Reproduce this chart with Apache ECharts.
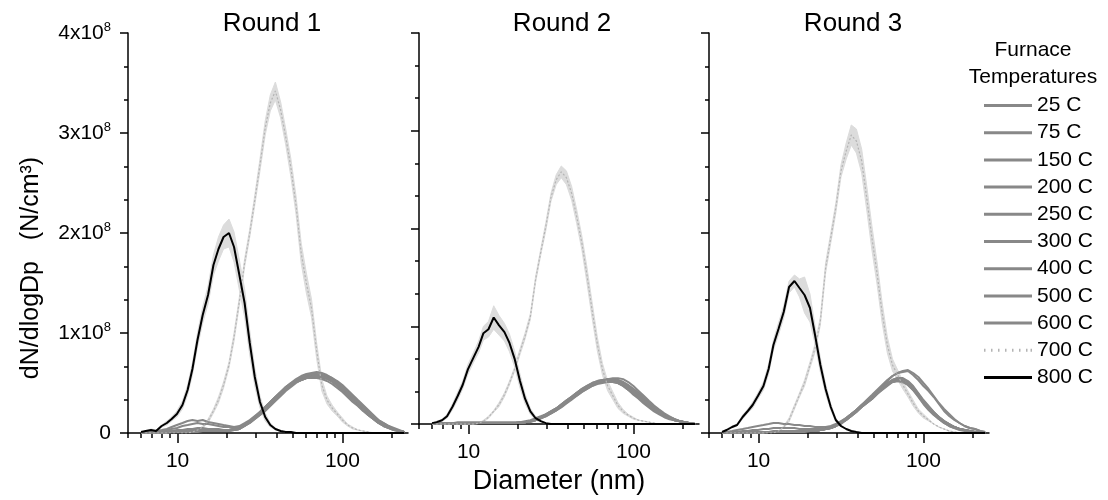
<!DOCTYPE html>
<html><head><meta charset="utf-8">
<script src="https://cdn.jsdelivr.net/npm/echarts@6/dist/echarts.min.js"></script>
<style>html,body{margin:0;padding:0;background:#fff}#c{width:1108px;height:500px}</style>
</head><body><div id="c"></div>
<script>
// ---------- DATA ----------
const diameters = [6.0,6.4,6.9,7.4,8.0,8.6,9.2,9.9,10.7,11.5, 12.3,13.2,14.2,15.3,16.5,17.7,19.0,20.5,22.0,23.7,
  25.5,27.4,29.4,31.6,34.0,36.5,39.2,42.2,45.3,48.7, 52.3,56.2,60.4,64.9,69.8,75.0,80.6,86.6,93.1,100.0,
  107.5,115.5,124.1,133.4,143.3,154.0,165.5,177.8,191.1,205.4,220.7,237.1];
const temps = ['25 C','75 C','150 C','200 C','250 C','300 C','400 C','500 C','600 C','700 C','800 C'];
const roundTitles = ['Round 1','Round 2','Round 3'];
const xMajorTicks = [10, 100];
const xMinorTicks = [5,6,7,8,9,20,30,40,50,60,70,80,90,200];

// Round 1 (values in 10^6 N/cm3)
const r1_25C  = [0,1,1,2,3,4,6,8,10,12, 13,12,13,11,10,9,8,7,6,7, 10,13,17,21,26,31,36,41,46,50, 53,55,57,58,58,57,55,52,48,43, 38,33,28,23,18,14,10,7,5,3,2,1];
const r1_75C  = [0,0,1,1,2,3,4,5,7,8, 9,10,9,9,8,7,6,6,5,6, 9,12,16,21,26,31,36,41,45,49, 52,55,57,58,59,58,56,53,49,44, 39,34,29,24,19,15,11,8,6,4,2,1];
const r1_150C = [0,0,0,1,1,2,2,3,3,4, 4,5,5,4,4,4,3,3,4,5, 8,11,15,19,24,29,34,39,44,48, 51,53,55,56,56,55,54,51,47,42, 37,32,28,23,18,14,10,7,5,3,2,1];
const r1_200C = [0,0,0,0,1,1,1,2,2,2, 3,3,3,3,3,3,3,3,4,5, 8,12,16,21,26,31,36,41,46,50, 54,57,59,60,61,60,58,55,51,46, 41,36,31,26,21,16,12,9,6,4,2,1];
const r1_250C = [0,0,0,1,1,1,1,2,2,2, 2,2,2,2,2,2,2,3,3,4, 7,10,14,18,23,28,33,38,43,47, 51,53,55,56,57,57,56,54,51,47, 42,37,32,27,22,17,13,10,7,5,3,1];
const r1_300C = [0,0,0,0,1,1,1,1,2,2, 2,2,2,2,2,2,2,3,4,5, 8,11,15,19,24,29,34,39,44,48, 51,54,56,58,58,58,57,55,52,48, 43,38,33,28,23,18,13,10,7,4,2,1];
const r1_400C = [0,0,0,0,0,1,1,1,1,2, 2,2,2,2,2,2,2,2,3,4, 7,11,15,20,25,30,35,40,44,48, 51,53,55,55,55,54,52,49,45,41, 36,31,27,22,18,14,10,7,5,3,2,1];
const r1_500C = [0,0,0,0,1,1,1,1,1,2, 2,2,2,2,2,2,3,3,3,4, 8,11,15,20,25,30,35,40,45,49, 53,56,58,59,59,58,56,53,50,45, 40,35,30,25,20,16,12,9,6,4,2,1];
const r1_600C = [0,0,0,0,0,0,1,1,1,1, 1,1,2,2,2,2,2,2,3,4, 7,10,14,18,22,27,32,37,42,46, 50,53,55,56,57,56,55,53,50,46, 41,36,31,26,21,16,12,9,6,4,2,1];
const r1_700C = [0,0,0,0,0,0,0,0,0,0, 1,3,6,12,22,33,48,68,96,132, 170,200,233,268,305,330,342,323,296,265, 228,180,150,125,82,48,33,25,19,13, 8,5,3,2,1,0,0,0,0,0,0,0];
const r1_700C_sd = [0,0,0,0,0,0,0,0,0,0, 0,0,1,2,2,3,3,3,4,4, 4,4,5,6,7,8,9,8,8,9, 9,10,10,9,8,6,4,3,2,2, 1,1,0,0,0,0,0,0,0,0,0,0];
const r1_800C = [1,2,3,2,7,10,14,19,28,43, 64,93,118,138,168,184,196,200,186,158, 130,90,56,31,16,8,4,2,1,1, 0,0,0,0,0,0,0,0,0,0, 0,0,0,0,0,0,0,0,0,0,0,0];
const r1_800C_sd = [0,0,1,1,1,2,2,3,4,5, 6,7,8,9,10,12,12,14,15,15, 14,12,9,6,4,2,1,0,0,0, 0,0,0,0,0,0,0,0,0,0, 0,0,0,0,0,0,0,0,0,0,0,0];

// Round 2
const r2_25C  = [0,1,1,1,1,2,2,2,2,2, 2,2,2,2,2,2,2,2,3,4, 6,8,10,13,16,20,24,28,32,36, 39,42,44,45,46,46,45,42,38,33, 28,23,19,15,11,8,6,4,3,2,1,0];
const r2_75C  = [0,0,1,1,1,1,1,1,1,1, 1,1,1,1,1,1,1,2,2,3, 5,7,9,12,15,18,22,26,30,34, 37,40,42,43,44,43,42,39,35,31, 27,22,18,14,11,8,6,4,3,2,1,0];
const r2_150C = [0,0,0,1,1,1,1,1,1,1, 1,1,1,1,1,1,1,1,2,3, 4,6,8,11,14,18,22,26,30,34, 37,40,42,44,45,45,45,43,40,36, 32,27,22,18,14,10,7,5,3,2,1,0];
const r2_200C = [0,0,0,0,1,1,1,1,1,1, 1,1,1,1,1,1,1,2,2,3, 5,7,10,13,16,20,24,28,32,36, 39,42,44,45,45,44,42,39,35,30, 26,21,17,13,10,7,5,4,3,2,1,0];
const r2_250C = [0,0,0,0,0,1,1,1,1,1, 1,1,1,1,1,1,1,1,2,2, 4,6,8,11,14,17,21,25,29,33, 36,39,42,44,46,47,47,46,43,39, 34,29,24,19,15,11,8,5,3,2,1,0];
const r2_300C = [0,0,0,0,0,0,1,1,1,1, 1,1,1,1,1,1,1,2,2,3, 5,7,9,12,15,19,23,27,31,35, 38,41,43,45,46,46,45,43,39,35, 30,25,20,16,12,9,6,4,3,2,1,0];
const r2_400C = [0,0,0,0,0,0,0,1,1,1, 1,1,1,1,1,1,1,1,2,3, 4,6,9,11,14,18,22,26,29,33, 36,39,41,42,43,43,42,40,37,33, 29,24,20,16,12,9,6,4,3,2,1,0];
const r2_500C = [0,0,0,0,0,0,0,0,1,1, 1,1,1,1,1,1,1,2,2,3, 5,7,10,13,16,20,24,28,32,35, 38,40,42,43,44,44,44,42,39,35, 31,26,21,17,13,9,7,5,3,2,1,0];
const r2_600C = [0,0,0,0,0,0,0,0,0,1, 1,1,1,1,1,1,1,1,2,3, 4,6,9,12,15,19,23,27,31,34, 37,40,42,44,45,45,44,41,37,33, 28,23,19,15,11,8,6,4,3,2,1,0];
const r2_700C = [0,0,0,0,0,0,0,0,0,1, 3,7,13,20,30,42,56,74,90,110, 148,176,202,232,250,258,252,236,212,185, 152,116,82,56,39,29,19,13,9,6, 4,3,2,1,0,0,0,0,0,0,0,0];
const r2_700C_sd = [0,0,0,0,0,0,0,0,0,0, 1,1,1,2,2,2,2,3,3,3, 3,3,4,4,5,6,7,7,7,7, 8,8,7,6,5,4,3,2,1,1, 0,0,0,0,0,0,0,0,0,0,0,0];
const r2_800C = [1,2,4,8,18,29,40,56,68,79, 93,97,109,101,94,83,67,44,26,13, 6,3,1,0,0,0,0,0,0,0, 0,0,0,0,0,0,0,0,0,0, 0,0,0,0,0,0,0,0,0,0,0,0];
const r2_800C_sd = [0,1,1,2,3,4,4,5,5,6, 7,8,12,10,9,9,8,7,5,3, 2,1,0,0,0,0,0,0,0,0, 0,0,0,0,0,0,0,0,0,0, 0,0,0,0,0,0,0,0,0,0,0,0];

// Round 3
const r3_25C  = [0,1,2,3,4,5,6,7,8,9, 10,10,9,9,8,8,7,7,6,6, 6,7,9,12,15,19,23,27,31,35, 40,44,48,51,53,52,49,44,38,31, 25,19,15,11,8,6,4,3,2,1,1,0];
const r3_75C  = [0,0,1,1,2,2,3,3,4,4, 5,5,5,5,5,4,4,4,4,4, 5,6,8,11,15,19,23,28,32,36, 41,46,50,53,55,54,51,46,39,32, 26,20,16,12,9,6,4,3,2,1,1,0];
const r3_150C = [0,0,0,1,1,1,1,1,1,1, 2,2,2,2,2,2,2,2,2,3, 4,5,7,10,13,17,21,26,30,34, 39,44,48,52,53,52,49,44,37,30, 24,19,14,11,8,6,4,3,2,1,1,0];
const r3_200C = [0,0,0,0,1,1,1,1,1,1, 1,1,2,2,2,2,2,2,2,3, 4,6,8,11,15,19,23,28,32,36, 41,46,50,53,54,54,51,46,39,32, 26,21,16,12,9,6,4,3,2,1,1,0];
const r3_250C = [0,0,0,0,0,1,1,1,1,1, 1,1,1,2,2,2,2,2,2,3, 4,5,7,10,13,17,22,26,30,34, 39,44,48,51,52,51,48,43,37,30, 24,19,14,10,7,5,4,3,2,1,0,0];
const r3_300C = [0,0,0,0,0,0,1,1,1,1, 1,1,1,1,2,2,2,2,2,3, 4,5,7,10,14,18,22,27,31,35, 40,45,49,53,55,55,52,47,40,33, 27,21,16,12,9,6,4,3,2,1,1,0];
const r3_400C = [0,0,0,0,0,0,0,1,1,1, 1,1,1,1,1,2,2,2,2,3, 4,5,7,9,13,17,21,26,30,34, 39,43,47,51,52,51,48,43,36,29, 23,18,14,10,7,5,3,2,2,1,0,0];
const r3_500C = [0,0,0,0,0,0,0,0,1,1, 1,1,1,1,1,1,2,2,2,3, 4,5,7,10,14,18,22,27,32,37, 42,46,52,57,60,61,62,58,53,47, 42,36,29,22,17,13,10,7,5,4,2,1];
const r3_600C = [0,0,0,0,0,0,0,0,0,1, 1,1,1,1,1,1,1,2,2,3, 4,5,7,10,14,18,23,28,33,38, 43,48,53,57,60,62,63,60,56,50, 44,37,30,24,19,14,10,7,5,4,2,1];
const r3_700C = [0,0,0,0,0,0,0,0,0,0, 0,2,6,13,26,38,50,68,85,112, 165,195,225,262,282,298,292,272,235,195, 160,120,88,68,58,48,39,30,22,17, 13,9,6,4,2,1,0,0,0,0,0,0];
const r3_700C_sd = [0,0,0,0,0,0,0,0,0,0, 0,0,1,2,2,2,3,3,4,4, 5,5,5,6,8,10,12,12,12,12, 11,10,8,6,5,4,3,3,2,2, 1,0,0,0,0,0,0,0,0,0,0,0];
const r3_800C = [1,3,6,8,16,22,28,37,47,64, 88,104,121,146,152,145,138,125,98,68, 44,26,13,7,4,2,1,0,0,0, 0,0,0,0,0,0,0,0,0,0, 0,0,0,0,0,0,0,0,0,0,0,0];
const r3_800C_sd = [0,1,1,1,2,2,3,3,4,5, 5,6,6,6,6,9,18,14,9,7, 5,3,2,1,0,0,0,0,0,0, 0,0,0,0,0,0,0,0,0,0, 0,0,0,0,0,0,0,0,0,0,0,0];

// ---------- BUILD ----------
const FONT = '"Liberation Sans", Arial, Helvetica, sans-serif';
const GRAY = '#888888';
const C700 = '#b4b4b4';
const BAND = '#dcdcdc';
const panels = [
  {gray:[r1_25C,r1_75C,r1_150C,r1_200C,r1_250C,r1_300C,r1_400C,r1_500C,r1_600C], t700:r1_700C, s700:r1_700C_sd, t800:r1_800C, s800:r1_800C_sd},
  {gray:[r2_25C,r2_75C,r2_150C,r2_200C,r2_250C,r2_300C,r2_400C,r2_500C,r2_600C], t700:r2_700C, s700:r2_700C_sd, t800:r2_800C, s800:r2_800C_sd},
  {gray:[r3_25C,r3_75C,r3_150C,r3_200C,r3_250C,r3_300C,r3_400C,r3_500C,r3_600C], t700:r3_700C, s700:r3_700C_sd, t800:r3_800C, s800:r3_800C_sd}
];
const gridLefts = [128, 419, 709];
const titleCenters = [272, 562, 853];
const pairs = arr => diameters.map((d, i) => [d, arr[i]]);
const axisLineStyle = {color:'#000', width:1.5};

const grid = gridLefts.map(l => ({left:l, top:33, width:280, height:400}));
const xAxis = [], yAxis = [], series = [];
panels.forEach((p, k) => {
  xAxis.push({type:'log', logBase:10, gridIndex:k, min:5, max:250, position:'bottom',
    axisLine:{show:true, onZero:false, lineStyle:axisLineStyle},
    axisTick:{show:true, customValues:xMajorTicks, length:10, lineStyle:axisLineStyle},
    axisLabel:{show:true, customValues:xMajorTicks, fontSize:21, color:'#000', fontFamily:FONT, margin:18, formatter:v=>String(Math.round(v))},
    splitLine:{show:false}, minorTick:{show:false},
    name: k === 1 ? 'Diameter (nm)' : '', nameLocation:'middle', nameGap:40,
    nameTextStyle:{fontSize:27, color:'#000', fontFamily:FONT}});
  xAxis.push({type:'log', logBase:10, gridIndex:k, min:5, max:250, position:'bottom',
    axisLine:{show:false}, axisLabel:{show:false}, splitLine:{show:false},
    axisTick:{show:true, customValues:xMinorTicks, length:5, lineStyle:axisLineStyle}});
  yAxis.push({type:'value', gridIndex:k, min:0, max:400, interval:100,
    axisLine:{show:true, lineStyle:axisLineStyle},
    axisTick:{show:true, length:8, lineStyle:axisLineStyle},
    minorTick:{show:true, splitNumber:3, length:4, lineStyle:axisLineStyle},
    splitLine:{show:false}, minorSplitLine:{show:false},
    axisLabel:{show:k === 0, fontSize:21, color:'#000', fontFamily:FONT, margin:17,
      formatter: v => v === 0 ? '0' : '{a|' + (v/100) + 'x10}{s|8}',
      rich:{a:{fontSize:21, color:'#000', fontFamily:FONT}, s:{fontSize:13, color:'#000', fontFamily:FONT, padding:[0,0,11,0]}}}});
  const ax = {xAxisIndex:2*k, yAxisIndex:k};
  // shaded spread bands (mean ± sd) drawn through the axes' coordinate system
  [[p.t700, p.s700], [p.t800, p.s800]].forEach(([m, s]) => {
    series.push({type:'custom', ...ax, silent:true, z:1, clip:true,
      data:[[diameters[0], 0]], encode:{x:0, y:1},
      renderItem:(params, api) => {
        const up = diameters.map((d, i) => api.coord([d, m[i] + s[i]]));
        const lo = diameters.map((d, i) => api.coord([d, Math.max(0, m[i] - s[i])])).reverse();
        return {type:'polygon', shape:{points:up.concat(lo)}, style:{fill:BAND, stroke:BAND, lineWidth:1}};
      }});
  });
  p.gray.forEach((arr, i) => series.push({type:'line', name:temps[i], ...ax, data:pairs(arr), symbol:'none',
    color:GRAY, lineStyle:{color:GRAY, width:2}, z:2}));
  series.push({type:'line', name:temps[9], ...ax, data:pairs(p.t700), symbol:'none',
    color:C700, lineStyle:{color:C700, width:1.2, type:[2,2]}, z:3});
  series.push({type:'line', name:temps[10], ...ax, data:pairs(p.t800), symbol:'none',
    color:'#000', lineStyle:{color:'#000', width:2}, z:4});
});

const lineIcon = 'path://M0,0h48v3h-48z';
const dotIcon = 'path://M0,0h1.5v3h-1.5z M7,0h1.5v3h-1.5z M14,0h1.5v3h-1.5z M21,0h1.5v3h-1.5z M28,0h1.5v3h-1.5z M35,0h1.5v3h-1.5z M42,0h1.5v3h-1.5z M46.5,0h1.5v3h-1.5z';
const legendData = temps.map((t, i) => ({name:t,
  icon: i === 9 ? dotIcon : lineIcon,
  itemStyle:{color: i < 9 ? GRAY : (i === 9 ? C700 : '#000')}}));

const option = {
  animation:false,
  backgroundColor:'#fff',
  textStyle:{fontFamily:FONT},
  title: roundTitles.map((t, k) => ({text:t, left:titleCenters[k], top:11, textAlign:'center', padding:0,
    textStyle:{fontSize:26, fontWeight:'normal', color:'#000', fontFamily:FONT}})),
  grid, xAxis, yAxis, series,
  legend:{orient:'vertical', left:984, top:95, padding:0, itemWidth:48, itemHeight:3, itemGap:6.2,
    selectedMode:false, data:legendData,
    textStyle:{fontSize:21, lineHeight:21, color:'#000', fontFamily:FONT}},
  graphic:[
    {type:'text', x:31, y:268, rotation:Math.PI/2,
      style:{text:'dN/dlogDp   (N/cm³)', fill:'#000', font:'25px ' + FONT, textAlign:'center', textVerticalAlign:'middle'}},
    {type:'text', x:1033, y:50, style:{text:'Furnace', fill:'#000', font:'21px ' + FONT, textAlign:'center', textVerticalAlign:'middle'}},
    {type:'text', x:1033, y:77, style:{text:'Temperatures', fill:'#000', font:'21px ' + FONT, textAlign:'center', textVerticalAlign:'middle'}}
  ]
};
const chart = echarts.init(document.getElementById('c'), null, {renderer:'canvas'});
chart.setOption(option);
</script>
</body></html>
